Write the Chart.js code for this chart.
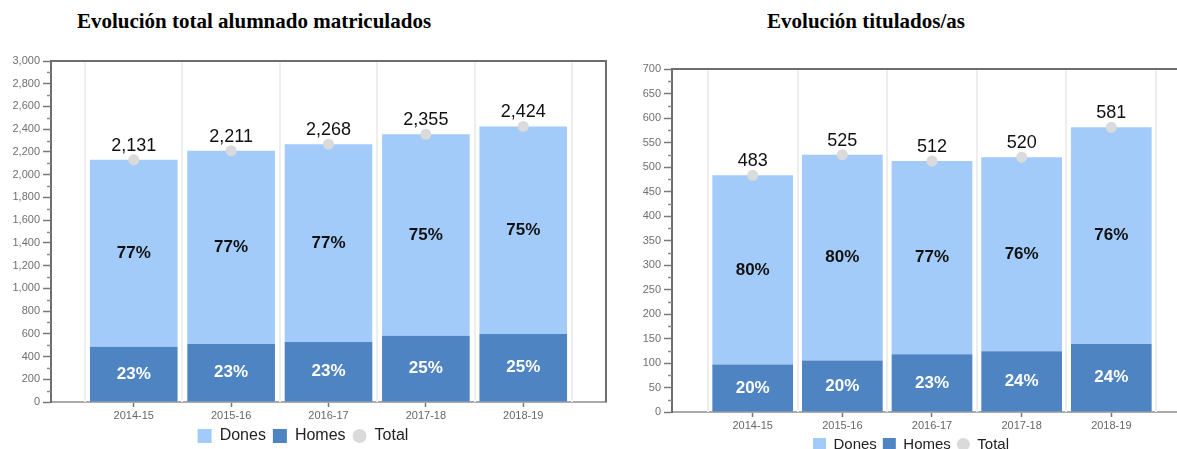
<!DOCTYPE html>
<html>
<head>
<meta charset="utf-8">
<script src="https://cdn.jsdelivr.net/npm/chart.js@4.4.0/dist/chart.umd.min.js"></script>
<style>
  html, body { margin: 0; padding: 0; width: 1177px; height: 449px; overflow: hidden; background: #fff; }
  .title { position: absolute; top: 9px; transform: translateX(-50%); white-space: nowrap;
           font: bold 21px 'Liberation Serif', 'Times New Roman', serif; color: #000; }
  canvas { position: absolute; top: 0; }
</style>
</head>
<body>
<div class="title" style="left:254px">Evolución total alumnado matriculados</div>
<div class="title" style="left:866px">Evolución titulados/as</div>
<canvas id="matriculados" width="620" height="470" style="left:0"></canvas>
<canvas id="titulados" width="580" height="470" style="left:630px"></canvas>
<script>
// Data
const seasons = ['2014-15', '2015-16', '2016-17', '2017-18', '2018-19'];

const matriculadosDones = [1646, 1701, 1740, 1773, 1826];
const matriculadosHomes = [485, 510, 528, 582, 598];
const matriculadosTotal = [2131, 2211, 2268, 2355, 2424];

const tituladosDones = [386, 420, 394, 396, 442];
const tituladosHomes = [97, 105, 118, 124, 139];
const tituladosTotal = [483, 525, 512, 520, 581];

const legendOrder = ['Dones', 'Homes', 'Total'];

Chart.defaults.font.family = "'Liberation Sans', Arial, sans-serif";
Chart.defaults.animation = false;

const colDones = '#a2cbfa';
const colHomes = '#4f84c2';
const colTotal = '#dadada';
const colAxis = '#6e6e6e';

// frame, category separators, minor ticks and value labels
const extrasPlugin = {
  id: 'extras',
  beforeDatasetsDraw(chart) {
    const { ctx, chartArea: a, scales: { x } } = chart;
    ctx.save();
    ctx.strokeStyle = '#eeeeee';
    ctx.lineWidth = 2;
    for (let i = 0; i <= seasons.length; i++) {
      const px = Math.round(x.getPixelForValue(i - 0.5));
      ctx.beginPath();
      ctx.moveTo(px, a.top);
      ctx.lineTo(px, a.bottom);
      ctx.stroke();
    }
    ctx.restore();
  },
  afterDatasetsDraw(chart, args, opts) {
    const { ctx } = chart;
    const homesMeta = chart.getDatasetMeta(0);
    const donesMeta = chart.getDatasetMeta(1);
    const totalMeta = chart.getDatasetMeta(2);
    ctx.save();
    ctx.textAlign = 'center';
    ctx.textBaseline = 'middle';
    seasons.forEach((s, i) => {
      const tot = opts.total[i];
      const d = donesMeta.data[i];
      const h = homesMeta.data[i];
      ctx.font = "bold 17px 'Liberation Sans', Arial, sans-serif";
      ctx.fillStyle = '#111';
      ctx.fillText(Math.round(opts.dones[i] / tot * 100) + '%', d.x, (d.y + d.base) / 2);
      ctx.fillStyle = '#fff';
      ctx.fillText(Math.round(opts.homes[i] / tot * 100) + '%', h.x, (h.y + h.base) / 2);
      const p = totalMeta.data[i];
      ctx.font = "18px 'Liberation Sans', Arial, sans-serif";
      ctx.fillStyle = '#111';
      ctx.fillText(tot.toLocaleString('en-US'), p.x, p.y - 14);
    });
    ctx.restore();
  },
  afterDraw(chart, args, opts) {
    const { ctx, chartArea: a, scales: { y } } = chart;
    ctx.save();
    ctx.strokeStyle = colAxis;
    ctx.lineWidth = 2;
    ctx.beginPath();
    ctx.moveTo(a.left, a.top);
    ctx.lineTo(a.right, a.top);
    ctx.lineTo(a.right, a.bottom);
    ctx.stroke();
    // minor ticks
    ctx.strokeStyle = '#8a8a8a';
    ctx.lineWidth = 1.5;
    for (let v = opts.minor; v < y.max; v += opts.major) {
      const py = Math.round(y.getPixelForValue(v)) + 0.5;
      ctx.beginPath();
      ctx.moveTo(a.left - 4, py);
      ctx.lineTo(a.left, py);
      ctx.stroke();
    }
    ctx.restore();
  }
};

function makeChart(id, dones, homes, total, cfg) {
  const pts = arr => arr.map((v, i) => ({ x: i, y: v }));
  return new Chart(document.getElementById(id), {
    type: 'bar',
    data: {
      datasets: [
        { label: 'Homes', data: pts(homes), backgroundColor: colHomes, borderWidth: 0,
          barPercentage: 0.9, categoryPercentage: 1 },
        { label: 'Dones', data: pts(dones), backgroundColor: colDones, borderWidth: 0,
          barPercentage: 0.9, categoryPercentage: 1 },
        { label: 'Total', type: 'line', data: pts(total), stack: 'total', order: -1,
          showLine: false, backgroundColor: colTotal, borderColor: colTotal, borderWidth: 0,
          pointRadius: 5.5, pointHoverRadius: 5.5, pointBackgroundColor: colTotal, pointBorderWidth: 0 }
      ]
    },
    plugins: [extrasPlugin],
    options: {
      responsive: false,
      locale: 'en-US',
      layout: { padding: { top: cfg.top, right: cfg.right, bottom: cfg.bottom, left: 0 } },
      scales: {
        x: {
          type: 'linear',
          stacked: true,
          offset: false,
          min: cfg.xMin,
          max: cfg.xMax,
          afterBuildTicks: s => { s.ticks = seasons.map((_, i) => ({ value: i })); },
          afterFit: s => { s.height = cfg.xHeight; },
          ticks: { callback: v => seasons[v], color: '#666', font: { size: 11 }, padding: 2, maxRotation: 0 },
          grid: { offset: false, drawOnChartArea: false, tickLength: 5, tickColor: '#777', tickWidth: 1.5 },
          border: { color: '#aaaaaa', width: 2 }
        },
        y: {
          stacked: true,
          min: 0,
          max: cfg.yMax,
          afterFit: s => { s.width = cfg.yWidth; },
          ticks: { stepSize: cfg.step, color: '#6f6f6f', font: { size: 11 }, padding: 3,
                   callback: v => v.toLocaleString('en-US') },
          grid: { drawOnChartArea: false, tickLength: 8, tickColor: '#7a7a7a', tickWidth: 1.5 },
          border: { color: colAxis, width: 2 }
        }
      },
      plugins: {
        tooltip: { enabled: false },
        extras: { dones: dones, homes: homes, total: total, minor: cfg.step / 2, major: cfg.step },
        legend: {
          position: 'bottom',
          labels: {
            boxWidth: cfg.legendBox,
            boxHeight: cfg.legendBox,
            padding: cfg.legendPad,
            color: '#222',
            font: { size: cfg.legendFont },
            sort: (a, b) => legendOrder.indexOf(a.text) - legendOrder.indexOf(b.text),
            generateLabels(chart) {
              const items = Chart.defaults.plugins.legend.labels.generateLabels(chart);
              items.forEach(it => {
                it.lineWidth = 0;
                if (it.text === 'Total') it.borderRadius = cfg.legendBox / 2;
              });
              return items;
            }
          }
        }
      }
    }
  });
}

makeChart('matriculados', matriculadosDones, matriculadosHomes, matriculadosTotal, {
  top: 61, right: 14, bottom: 16, yWidth: 51, xHeight: 19,
  xMin: -0.85, xMax: 4.85, yMax: 3000, step: 200, legendFont: 16, legendBox: 14, legendPad: 7
});

makeChart('titulados', tituladosDones, tituladosHomes, tituladosTotal, {
  top: 69, right: 18, bottom: 8, yWidth: 42, xHeight: 19,
  xMin: -0.9, xMax: 4.9, yMax: 700, step: 50, legendFont: 15, legendBox: 13, legendPad: 6
});
</script>
</body>
</html>
